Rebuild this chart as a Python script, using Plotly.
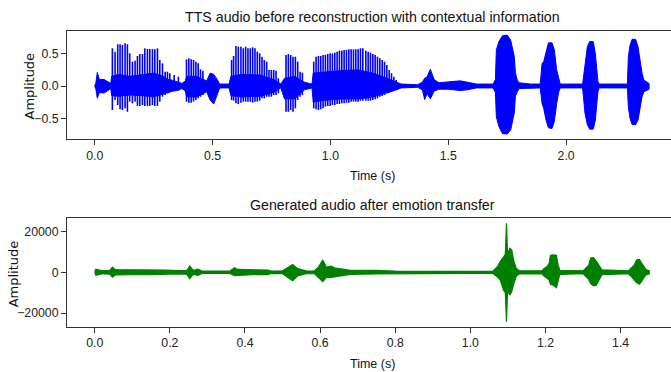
import plotly.graph_objects as go

# ---------------- data ----------------
# Top panel: body envelope of the TTS waveform (time s, upper, lower)
top_env_t = [0.000, 0.005, 0.011, 0.020, 0.040, 0.060, 0.068, 0.072, 0.100, 0.150, 0.200, 0.250,
             0.290, 0.310, 0.330, 0.350, 0.370, 0.385, 0.390, 0.430, 0.460, 0.475, 0.490, 0.505,
             0.520, 0.530, 0.570, 0.578, 0.620, 0.700, 0.760, 0.780, 0.790, 0.805, 0.850, 0.870,
             0.890, 0.910, 0.922, 0.927, 0.980, 1.050, 1.120, 1.180, 1.240, 1.280, 1.300, 1.370,
             1.390, 1.400, 1.410, 1.424, 1.440, 1.460, 1.500, 1.550, 1.580, 1.620, 1.690,
             1.700, 1.704, 1.715, 1.730, 1.750, 1.765, 1.780, 1.785, 1.793, 1.800, 1.850, 1.890,
             1.898, 1.905, 1.915, 1.925, 1.940, 1.950, 1.960, 1.969, 1.975, 2.070,
             2.080, 2.090, 2.100, 2.115, 2.124, 2.130, 2.135, 2.140, 2.260,
             2.264, 2.271, 2.280, 2.295, 2.305, 2.315, 2.322, 2.330, 2.352]
top_env_hi = [0.00, 0.05, 0.21, 0.10, 0.10, 0.06, 0.04, 0.15, 0.18, 0.15, 0.17, 0.20,
              0.15, 0.10, 0.09, 0.07, 0.04, 0.08, 0.15, 0.15, 0.10, 0.08, 0.20, 0.18,
              0.10, 0.03, 0.03, 0.15, 0.18, 0.17, 0.10, 0.05, 0.03, 0.12, 0.15, 0.10,
              0.06, 0.04, 0.03, 0.20, 0.22, 0.24, 0.25, 0.20, 0.12, 0.06, 0.03, 0.02,
              0.06, 0.12, 0.14, 0.26, 0.10, 0.05, 0.06, 0.08, 0.06, 0.03, 0.03,
              0.10, 0.56, 0.69, 0.78, 0.79, 0.71, 0.46, 0.20, 0.09, 0.05, 0.03, 0.03,
              0.35, 0.38, 0.51, 0.67, 0.67, 0.56, 0.25, 0.09, 0.03, 0.03,
              0.35, 0.61, 0.69, 0.69, 0.50, 0.20, 0.07, 0.03, 0.03,
              0.45, 0.63, 0.725, 0.725, 0.61, 0.35, 0.20, 0.09, 0.04]
top_env_lo = [0.00, -0.05, -0.19, -0.10, -0.11, -0.06, -0.04, -0.15, -0.16, -0.14, -0.15, -0.17,
              -0.13, -0.10, -0.08, -0.07, -0.04, -0.08, -0.17, -0.17, -0.12, -0.09, -0.22, -0.28,
              -0.12, -0.03, -0.03, -0.15, -0.17, -0.16, -0.10, -0.05, -0.03, -0.20, -0.20, -0.12,
              -0.06, -0.04, -0.03, -0.25, -0.22, -0.20, -0.20, -0.17, -0.10, -0.06, -0.03, -0.02,
              -0.06, -0.21, -0.12, -0.20, -0.08, -0.05, -0.05, -0.07, -0.06, -0.03, -0.03,
              -0.10, -0.48, -0.63, -0.74, -0.745, -0.68, -0.42, -0.16, -0.09, -0.04, -0.03, -0.03,
              -0.27, -0.35, -0.53, -0.65, -0.66, -0.55, -0.27, -0.09, -0.03, -0.03,
              -0.42, -0.60, -0.67, -0.67, -0.53, -0.27, -0.09, -0.03, -0.03,
              -0.32, -0.50, -0.60, -0.60, -0.53, -0.33, -0.17, -0.09, -0.05]

# Top panel: pitch-pulse spikes in the voiced parts (time s, top, bottom)
top_spk_t = [0.0749, 0.0863, 0.0976, 0.1075, 0.1174, 0.1288, 0.1387, 0.1486, 0.1600, 0.1713,
             0.1812, 0.1911, 0.2024, 0.2124, 0.2237, 0.2336, 0.2449, 0.2549, 0.2662, 0.2761,
             0.2875, 0.2988, 0.3087, 0.3186, 0.3370, 0.3550,
             0.3894, 0.3993, 0.4093, 0.4192, 0.4291, 0.4390, 0.4489, 0.4589,
             0.5807, 0.5892, 0.5991, 0.6091, 0.6204, 0.6303, 0.6402, 0.6501, 0.6601, 0.6700,
             0.6799, 0.6898, 0.6998, 0.7097, 0.7195, 0.7295, 0.7394, 0.7494, 0.7593, 0.7692, 0.7791,
             0.8116, 0.8215, 0.8314, 0.8413, 0.8513, 0.8612, 0.8711, 0.8810,
             0.9292, 0.9391, 0.9490, 0.9589, 0.9689, 0.9788, 0.9887, 0.9986, 1.0085, 1.0185,
             1.0284, 1.0383, 1.0482, 1.0581, 1.0681, 1.0780, 1.0879, 1.0978, 1.1077, 1.1177,
             1.1276, 1.1375, 1.1501, 1.1601, 1.1700, 1.1799, 1.1898, 1.1997, 1.2097, 1.2196,
             1.2295, 1.2394, 1.2494, 1.2593, 1.2692, 1.2791]
top_spk_hi = [0.585, 0.533, 0.647, 0.647, 0.637, 0.663, 0.647, 0.507, 0.378, 0.393,
              0.466, 0.497, 0.497, 0.585, 0.575, 0.575, 0.575, 0.570, 0.585, 0.404,
              0.352, 0.223, 0.223, 0.197, 0.170, 0.145,
              0.414, 0.430, 0.414, 0.404, 0.378, 0.352, 0.259, 0.238,
              0.404, 0.466, 0.621, 0.611, 0.611, 0.585, 0.611, 0.585, 0.585, 0.600,
              0.585, 0.533, 0.507, 0.455, 0.404, 0.378, 0.248, 0.248, 0.248, 0.238, 0.119,
              0.481, 0.497, 0.481, 0.455, 0.455, 0.378, 0.223, 0.207,
              0.378, 0.455, 0.466, 0.466, 0.481, 0.481, 0.497, 0.507, 0.507, 0.518,
              0.533, 0.549, 0.549, 0.559, 0.559, 0.569, 0.569, 0.569, 0.569, 0.569,
              0.585, 0.585, 0.549, 0.533, 0.518, 0.497, 0.481, 0.455, 0.430, 0.404,
              0.378, 0.326, 0.248, 0.197, 0.145, 0.093]
top_spk_lo = [-0.373, -0.217, -0.295, -0.362, -0.373, -0.347, -0.400, -0.243, -0.270, -0.243,
              -0.310, -0.310, -0.295, -0.310, -0.310, -0.310, -0.295, -0.310, -0.310, -0.243,
              -0.166, -0.140, -0.114, -0.090, -0.080, -0.070,
              -0.243, -0.259, -0.259, -0.243, -0.217, -0.192, -0.166, -0.140,
              -0.217, -0.228, -0.269, -0.280, -0.259, -0.243, -0.243, -0.243, -0.243, -0.259,
              -0.243, -0.243, -0.228, -0.192, -0.192, -0.166, -0.166, -0.166, -0.140, -0.140, -0.114,
              -0.400, -0.400, -0.373, -0.400, -0.347, -0.217, -0.166, -0.140,
              -0.347, -0.362, -0.373, -0.362, -0.347, -0.321, -0.310, -0.310, -0.295, -0.295,
              -0.280, -0.280, -0.269, -0.269, -0.259, -0.259, -0.243, -0.243, -0.243, -0.243,
              -0.228, -0.228, -0.228, -0.228, -0.228, -0.217, -0.207, -0.192, -0.166, -0.155,
              -0.140, -0.114, -0.104, -0.088, -0.073, -0.062]

# Bottom panel: envelope of the generated waveform (time s, upper, lower)
bot_env_t = [0.000, 0.003, 0.010, 0.020, 0.040, 0.047, 0.055, 0.100, 0.150, 0.190, 0.220, 0.245,
             0.253, 0.262, 0.275, 0.285, 0.360, 0.372, 0.380, 0.420, 0.460, 0.470, 0.500, 0.510,
             0.527, 0.540, 0.555, 0.565, 0.585, 0.595, 0.607, 0.617, 0.630, 0.640, 0.660, 0.680,
             0.750, 0.800, 0.900, 1.000, 1.060, 1.073, 1.080, 1.088, 1.093, 1.096, 1.099, 1.105,
             1.110, 1.115, 1.122, 1.130,
             1.190, 1.196, 1.205, 1.210, 1.213, 1.220, 1.229, 1.233, 1.238,
             1.300, 1.307, 1.315, 1.320, 1.328, 1.335, 1.342, 1.350,
             1.420, 1.428, 1.436, 1.442, 1.450, 1.456, 1.462, 1.468, 1.476]
bot_env_hi = [0, 1500, 1200, 700, 900, 2500, 1300, 1300, 1200, 1100, 800, 900,
              3100, 1000, 1500, 600, 600, 2200, 1400, 1300, 1100, 600, 700, 1800,
              3800, 1800, 1200, 600, 700, 2500, 6000, 2500, 3000, 2000, 1600, 1000,
              900, 600, 500, 500, 600, 3000, 5500, 7300, 9000, 24000, 9000, 11800,
              11000, 6000, 2000, 800,
              700, 1800, 3000, 4500, 8300, 8500, 8300, 4000, 1000,
              700, 2000, 3500, 7000, 7200, 5500, 3500, 1200,
              700, 2000, 3500, 6000, 6300, 4500, 2500, 1200, 800]
bot_env_lo = [0, -1500, -1200, -700, -900, -2400, -1300, -1200, -1200, -1000, -800, -900,
              -3100, -1000, -1500, -600, -600, -1600, -1400, -1200, -1100, -600, -700, -1800,
              -4100, -1800, -1200, -600, -700, -2500, -4600, -2500, -2500, -2000, -1600, -1000,
              -800, -600, -500, -500, -600, -2500, -4000, -8700, -10000, -24200, -9000, -11100,
              -9500, -6000, -2000, -800,
              -700, -1800, -3000, -4000, -6000, -6200, -7500, -4000, -1000,
              -700, -2000, -3500, -5500, -6700, -6500, -4000, -1200,
              -700, -2000, -3500, -5000, -5900, -4500, -2500, -1200, -800]

top_xticks = [0.0, 0.5, 1.0, 1.5, 2.0]
top_yticks = [-0.5, 0.0, 0.5]
top_ytext = ["\u22120.5", "0.0", "0.5"]
bot_xticks = [0.0, 0.2, 0.4, 0.6, 0.8, 1.0, 1.2, 1.4]
bot_yticks = [-20000, 0, 20000]
bot_ytext = ["\u221220000", "0", "20000"]

top_title = "TTS audio before reconstruction with contextual information"
bot_title = "Generated audio after emotion transfer"
x_label = "Time (s)"
y_label = "Amplitude"

BLUE = "#0000ff"
GREEN = "#008000"
FONT = "Liberation Sans, Arial, sans-serif"
W, H = 671, 372

fig = go.Figure()

# top body envelope
fig.add_trace(go.Scatter(
    x=top_env_t + top_env_t[::-1], y=top_env_hi + top_env_lo[::-1],
    fill="toself", fillcolor=BLUE, mode="lines", line=dict(color=BLUE, width=1),
    xaxis="x", yaxis="y", hoverinfo="skip"))

# top spikes
sx, sy = [], []
for t, hi, lo in zip(top_spk_t, top_spk_hi, top_spk_lo):
    sx += [t, t, None]
    sy += [lo, hi, None]
fig.add_trace(go.Scatter(x=sx, y=sy, mode="lines", line=dict(color=BLUE, width=1.6),
                         xaxis="x", yaxis="y", hoverinfo="skip"))

# bottom envelope
fig.add_trace(go.Scatter(
    x=bot_env_t + bot_env_t[::-1], y=bot_env_hi + bot_env_lo[::-1],
    fill="toself", fillcolor=GREEN, mode="lines", line=dict(color=GREEN, width=1.2),
    xaxis="x2", yaxis="y2", hoverinfo="skip"))

tickfont = dict(family=FONT, size=12.3, color="#222222")
common_x = dict(showgrid=False, zeroline=False, showline=True, linecolor="#333333", linewidth=1,
                mirror=True, ticks="outside", ticklen=5, tickcolor="#333333", tickfont=tickfont)
common_y = dict(showgrid=False, zeroline=False, showline=True, linecolor="#333333", linewidth=1,
                mirror=False, ticks="outside", ticklen=5, tickcolor="#333333", tickfont=tickfont)

fig.update_layout(
    width=W, height=H, margin=dict(l=0, r=0, t=0, b=0),
    paper_bgcolor="white", plot_bgcolor="white", showlegend=False,
    xaxis=dict(domain=[67 / W, 1], range=[-0.1176, 2.445], tickvals=top_xticks,
               tickformat=".1f", anchor="y", **common_x),
    yaxis=dict(domain=[1 - 139 / H, 1 - 31 / H], range=[-0.823, 0.854], tickvals=top_yticks,
               ticktext=top_ytext, anchor="x", **common_y),
    xaxis2=dict(domain=[67 / W, 1], range=[-0.0738, 1.534], tickvals=bot_xticks,
                tickformat=".1f", anchor="y2", **common_x),
    yaxis2=dict(domain=[1 - 326.7 / H, 1 - 218.3 / H], range=[-26670, 26470], tickvals=bot_yticks,
                ticktext=bot_ytext, anchor="x2", **common_y),
)

ann = []
def txt(text, x, y, size, family=FONT, angle=0):
    ann.append(dict(text=text, x=x / W, y=1 - y / H, xref="paper", yref="paper",
                    showarrow=False, xanchor="center", yanchor="middle", textangle=angle,
                    font=dict(family=family, size=size, color="#111111")))

txt(top_title, 372, 17, 14.2)
txt(x_label, 372, 176, 12.5)
txt(bot_title, 372, 205, 14.2)
txt(x_label, 372, 364, 12.5)
txt(y_label, 29, 86.5, 13, family="DejaVu Sans", angle=-90)
txt(y_label, 13.3, 274, 13, family="DejaVu Sans", angle=-90)
fig.update_layout(annotations=ann)

fig.write_html("out.html")
